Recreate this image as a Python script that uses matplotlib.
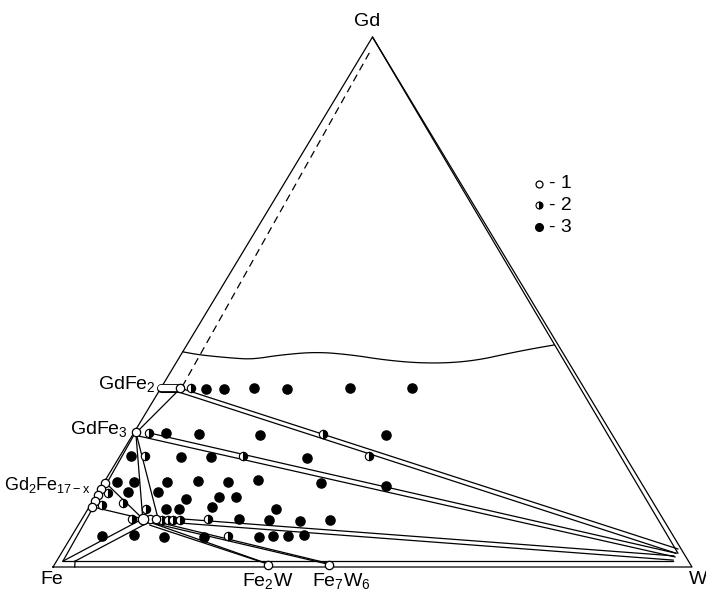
import matplotlib.pyplot as plt
import numpy as np

plt.rcParams['font.family'] = 'Liberation Sans'
plt.rcParams['mathtext.fontset'] = 'custom'
plt.rcParams['mathtext.rm'] = 'Liberation Sans'
plt.rcParams['mathtext.it'] = 'Liberation Sans'

# compositions in at.% Gd and at.% W (rest is Fe)
# 1 - single phase samples
one_gd = [25.5, 15.8, 14.7, 13.6, 12.5, 11.3, 9.1, 9.1, 0.4, 0.4]
one_w = [0.2, 0.2, 0.15, 0.2, 0.35, 0.45, 10.6, 11.6, 33.4, 43.0]
node_gd, node_w = 9.1, 9.5  # ternary phase

# 2 - two phase samples
two_gd = [33.8, 25.3, 25.1, 20.9, 20.9, 20.9, 14.0, 11.7, 12.1, 10.9,
          9.1, 9.1, 5.8, 8.9, 8.9, 8.9, 8.9]
two_w = [4.7, 2.4, 29.7, 3.9, 19.3, 39.0, 1.6, 1.8, 4.9, 9.1,
         7.8, 19.7, 24.5, 12.6, 13.5, 14.4, 15.4]

# 3 - three phase samples
three_gd = [33.6, 33.6, 33.8, 33.6, 33.8, 33.8,
            25.3, 25.1, 24.9, 24.9,
            20.9, 20.8, 20.8, 20.6,
            16.0, 16.0, 16.0, 16.2, 16.0, 16.4, 15.8, 15.3,
            14.2, 14.2, 13.2, 13.2, 12.8,
            10.9, 10.9, 11.3, 10.9,
            9.1, 8.9, 8.7, 8.9,
            5.8, 6.0, 5.7, 5.7, 5.7, 5.8, 5.8, 6.0]
three_w = [7.1, 10.0, 14.6, 19.8, 29.6, 39.3,
           5.0, 10.3, 20.0, 39.7,
           1.7, 9.6, 14.3, 29.4,
           2.0, 4.7, 9.8, 14.6, 19.4, 23.9, 34.0, 44.5,
           4.6, 9.3, 19.4, 22.0, 14.4,
           12.2, 14.2, 19.3, 29.4,
           24.6, 29.4, 34.3, 38.9,
           4.8, 9.7, 14.5, 20.8, 29.4, 31.5, 33.9, 36.3]

# GdFe2 homogeneity range
gdfe2_gd = [33.8, 33.8]
gdfe2_w = [0.0, 3.0]

# tie lines, ((Gd, W), (Gd, W))
tie_lines = [
    ((33.4, 3.0), (25.5, 0.4)),
    ((33.6, 3.5), (3.4, 96.1)), ((33.0, 3.2), (2.6, 96.2)),
    ((25.3, 2.4), (2.6, 96.2)), ((24.7, 1.1), (1.9, 96.4)),
    ((9.1, 15.3), (2.1, 96.1)), ((8.3, 15.7), (1.3, 96.4)),
    ((8.7, 10.2), (0.75, 32.9)), ((7.9, 11.2), (0.4, 33.8)),
    ((8.7, 11.3), (0.75, 42.5)), ((8.1, 12.2), (0.4, 43.3)),
    ((9.1, 9.5), (1.1, 1.0)), ((8.3, 10.6), (1.1, 2.9)),
    ((9.1, 9.5), (15.8, 0.4)), ((9.1, 9.5), (11.3, 0.65)),
    ((25.5, 0.2), (9.1, 9.5)), ((25.5, 0.2), (9.1, 11.9)),
    ((1.1, 1.0), (25.5, 0.2)),
    ((1.1, 1.0), (1.1, 96.4)),
    ((1.1, 2.9), (0.0, 3.4)),
    ((100.0, 0.0), (2.6, 96.5)),
]
dashed_line = ((97.0, 1.0), (34.2, 3.2))

# liquidus
liq_gd = [40.6, 40.0, 39.4, 39.2, 40.0, 40.6, 40.0, 39.1, 38.5, 38.5, 39.1, 40.2, 41.1, 41.9]
liq_w = [0.0, 3.0, 8.5, 11.7, 15.5, 21.0, 26.9, 32.1, 37.7, 42.9, 47.2, 50.8, 54.1, 57.5]


def tern(gd, w):
    gd = np.asarray(gd, dtype=float) / 100
    w = np.asarray(w, dtype=float) / 100
    return w + gd / 2, gd


def smooth(x, y, n=3):
    # corner cutting so the drawn curve is not jagged
    for _ in range(n):
        q = 0.75 * np.c_[x[:-1], y[:-1]] + 0.25 * np.c_[x[1:], y[1:]]
        r = 0.25 * np.c_[x[:-1], y[:-1]] + 0.75 * np.c_[x[1:], y[1:]]
        pts = np.empty((2 * len(q), 2))
        pts[0::2], pts[1::2] = q, r
        x = np.r_[x[0], pts[:, 0], x[-1]]
        y = np.r_[y[0], pts[:, 1], y[-1]]
    return x, y


W_PX, H_PX = 706, 593
fig = plt.figure(figsize=(W_PX / 100, H_PX / 100), dpi=100)
ax = fig.add_axes([53 / W_PX, 26 / H_PX, 639 / W_PX, 530 / H_PX])
ax.set_xlim(0, 1)
ax.set_ylim(0, 1)
ax.axis('off')

lw = 0.9
# outer triangle
x, y = tern([0, 0, 100, 0], [0, 100, 0, 0])
ax.plot(x, y, color='black', lw=lw, clip_on=False)

for a, b in tie_lines:
    x, y = tern([a[0], b[0]], [a[1], b[1]])
    ax.plot(x, y, color='black', lw=lw, clip_on=False)

x, y = tern([dashed_line[0][0], dashed_line[1][0]], [dashed_line[0][1], dashed_line[1][1]])
ax.plot(x, y, color='black', lw=lw, ls=(0, (6, 4)))

x, y = smooth(*tern(liq_gd, liq_w))
ax.plot(x, y, color='black', lw=lw)

# GdFe2 bar
x, y = tern(gdfe2_gd, gdfe2_w)
ax.plot(x, y, color='black', lw=6.5, solid_capstyle='round', zorder=3)
ax.plot(x, y, color='white', lw=4.5, solid_capstyle='round', zorder=3)
ax.plot(x[1], y[1], 'o', ms=6, mfc='white', mec='black', mew=0.9, zorder=4)

x, y = tern(three_gd, three_w)
ax.plot(x, y, 'o', ms=6.6, color='black', ls='none', zorder=5)
x, y = tern(two_gd, two_w)
ax.plot(x, y, 'o', ms=6, mfc='black', mfcalt='white', fillstyle='right',
        mec='black', mew=0.8, ls='none', zorder=5)
x, y = tern(one_gd, one_w)
ax.plot(x, y, 'o', ms=6, mfc='white', mec='black', mew=0.9, ls='none', zorder=5, clip_on=False)
x, y = tern(node_gd, node_w)
ax.plot(x, y, 'o', ms=7.5, mfc='white', mec='black', mew=0.9, zorder=6)

# legend
lax = fig.add_axes([0, 0, 1, 1])
lax.set_xlim(0, W_PX)
lax.set_ylim(H_PX, 0)
lax.axis('off')
lax.plot(539, 184, 'o', ms=5, mfc='white', mec='black', mew=0.9)
lax.plot(539, 205, 'o', ms=5, mfc='black', mfcalt='white', fillstyle='right', mec='black', mew=0.8)
lax.plot(539, 227, 'o', ms=5.5, color='black')
for yy, t in zip([184, 205, 227], ['1', '2', '3']):
    lax.text(549, yy, '- ' + t, fontsize=14, va='center', ha='left')

fs = 14
lax.text(367, 22, 'Gd', fontsize=fs, ha='center', va='center')
lax.text(40, 580, 'Fe', fontsize=fs, ha='left', va='center')
lax.text(689, 580, 'W', fontsize=fs, ha='left', va='center')
lax.text(268, 581, 'Fe$_2$W', fontsize=fs, ha='center', va='center')
lax.text(341, 581, 'Fe$_7$W$_6$', fontsize=fs, ha='center', va='center')
lax.text(156, 384, 'GdFe$_2$', fontsize=fs, ha='right', va='center')
lax.text(128, 429, 'GdFe$_3$', fontsize=fs, ha='right', va='center')
lax.text(91, 485, 'Gd$_2$Fe$_{\\mathregular{17-x}}$', fontsize=13, ha='right', va='center')

fig.savefig('out.png', dpi=100)
